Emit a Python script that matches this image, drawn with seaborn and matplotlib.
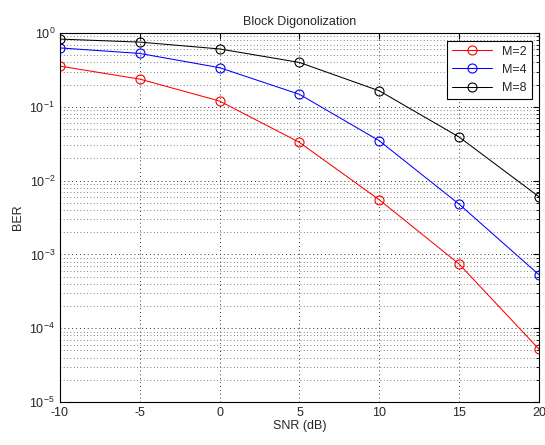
import numpy as np
import pandas as pd
import matplotlib
matplotlib.use("Agg")
import matplotlib.pyplot as plt
import matplotlib.ticker as mticker
import seaborn as sns

snr = [-10, -5, 0, 5, 10, 15, 20]
ber_m2 = [0.357, 0.238, 0.12, 0.033, 0.0055, 0.00074, 0.000052]
ber_m4 = [0.63, 0.53, 0.34, 0.148, 0.0347, 0.0048, 0.00053]
ber_m8 = [0.83, 0.755, 0.61, 0.40, 0.165, 0.039, 0.00605]
labels = ["M=2", "M=4", "M=8"]
colors = ["#ff0000", "#0000ff", "#000000"]

df = pd.concat([
    pd.DataFrame({"SNR": snr, "BER": v, "M": lab})
    for v, lab in zip([ber_m2, ber_m4, ber_m8], labels)
])

sns.set_style("white")
plt.rcParams["font.family"] = ["Liberation Sans", "DejaVu Sans"]
plt.rcParams["mathtext.fontset"] = "custom"
plt.rcParams["mathtext.rm"] = "Liberation Sans"
plt.rcParams["mathtext.it"] = "Liberation Sans"
plt.rcParams["axes.unicode_minus"] = False

fig = plt.figure(figsize=(5.45, 4.45), dpi=100)
ax = fig.add_axes([0.110, 0.0966, 0.879, 0.829])

sns.lineplot(data=df, x="SNR", y="BER", hue="M", palette=colors, ax=ax,
             marker="o", markersize=6.5, markerfacecolor="none",
             markeredgewidth=0.8, linewidth=0.75, dashes=False)
for line, c in zip(ax.lines, colors):
    line.set_markeredgecolor(c)

ax.set_yscale("log")
ax.set_xlim(-10, 20)
ax.set_ylim(1e-5, 1)
ax.set_xticks([-10, -5, 0, 5, 10, 15, 20])
ax.yaxis.set_major_locator(mticker.LogLocator(base=10, numticks=10))
ax.yaxis.set_minor_locator(mticker.LogLocator(base=10, subs=np.arange(2, 10), numticks=10))
ax.yaxis.set_minor_formatter(mticker.NullFormatter())

dot = (0, (1, 3))
ax.grid(True, which="major", axis="both", linestyle=dot, color="#333333", linewidth=0.7)
ax.grid(True, which="minor", axis="y", linestyle=dot, color="#555555", linewidth=0.6)

ax.tick_params(which="both", direction="in", top=True, right=True, labelsize=9,
               color="black")
ax.tick_params(which="major", length=4)
ax.tick_params(which="minor", length=2)
for s in ax.spines.values():
    s.set_color("black")
    s.set_linewidth(0.8)

ax.set_xlabel("SNR (dB)", fontsize=9, labelpad=1)
ax.set_ylabel("BER", fontsize=9, labelpad=4)
ax.set_title("Block Digonolization", fontsize=9, pad=6)

leg = ax.legend(loc="upper right", fontsize=9, frameon=True, fancybox=False,
                edgecolor="black", framealpha=1, handlelength=3.2,
                borderaxespad=0.6, labelspacing=0.5)
leg.get_frame().set_linewidth(0.8)
for h, c in zip(leg.legend_handles, colors):
    h.set_markerfacecolor("none")
    h.set_markeredgecolor(c)

fig.savefig("out.png", dpi=100)
